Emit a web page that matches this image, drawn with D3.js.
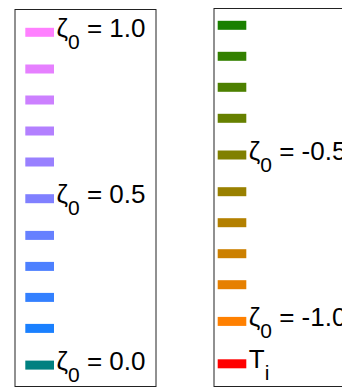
<!DOCTYPE html>
<html>
<head>
<meta charset="utf-8">
<script src="https://cdn.jsdelivr.net/npm/d3@7"></script>
<style>
  html, body { margin: 0; padding: 0; background: #fff; }
  svg { display: block; }
</style>
</head>
<body>
<div id="chart"></div>
<script>
// ---- data ----
const leftValues  = [1.0, 0.9, 0.8, 0.7, 0.6, 0.5, 0.4, 0.3, 0.2, 0.1, 0.0];
const leftColors  = ["#ff80ff", "#e680ff", "#cc80ff", "#b380ff", "#9980ff", "#8080ff",
                     "#6680ff", "#4d80ff", "#3380ff", "#1a80ff", "#008080"];
const leftLabels  = ["1.0", "", "", "", "", "0.5", "", "", "", "", "0.0"];

const rightValues = [-0.1, -0.2, -0.3, -0.4, -0.5, -0.6, -0.7, -0.8, -0.9, -1.0, null];
const rightColors = ["#1a8000", "#338000", "#4d8000", "#668000", "#808000", "#998000",
                     "#b38000", "#cc8000", "#e68000", "#ff8000", "#ff0000"];
const rightLabels = ["", "", "", "", "-0.5", "", "", "", "", "-1.0", "T_i"];

// ---- drawing ----
const W = 342, H = 390;
const svg = d3.select("#chart").append("svg")
  .attr("width", W).attr("height", H)
  .style("font-family", "'Liberation Sans', Arial, Helvetica, sans-serif");

svg.append("rect").attr("width", W).attr("height", H).attr("fill", "#fff");

function drawLegend(cfg) {
  const { values, colors, labels, box, swX, swW, firstY } = cfg;
  // cumulative row offsets (labelled rows are taller)
  const offs = [0];
  for (let i = 1; i < labels.length; i++) {
    offs.push(offs[i - 1] + 31 + 5.7 * ((labels[i - 1] ? 1 : 0) + (labels[i] ? 1 : 0)));
  }
  const y = d3.scaleLinear().domain([0, offs[offs.length - 1]])
    .range([firstY, firstY + offs[offs.length - 1]]);

  const g = svg.append("g");
  g.append("rect")
    .attr("x", box.x).attr("y", box.y)
    .attr("width", box.w).attr("height", box.h)
    .attr("fill", "#fff").attr("stroke", "#222").attr("stroke-width", 1);

  const rows = g.selectAll("g.row").data(values.map((v, i) => ({ v, i })))
    .enter().append("g").attr("class", "row");

  rows.append("rect")
    .attr("x", swX).attr("width", swW)
    .attr("y", d => y(offs[d.i]) - 4.5).attr("height", 9)
    .attr("fill", d => colors[d.i]);

  const txt = rows.filter(d => labels[d.i]).append("text")
    .attr("x", swX + swW + 2.5)
    .attr("y", d => y(offs[d.i]) + 4.5)
    .attr("font-size", 26)
    .attr("fill", "#000");

  txt.each(function (d) {
    const t = d3.select(this);
    const lab = labels[d.i];
    if (lab === "T_i") {
      t.append("tspan").text("T");
      t.append("tspan").attr("dy", 12).attr("font-size", 21).text("i");
    } else {
      t.append("tspan").text("ζ");
      t.append("tspan").attr("dy", 12).attr("font-size", 21).text("0");
      t.append("tspan").attr("dy", -12).text(" = " + lab);
    }
  });
}

drawLegend({
  values: leftValues, colors: leftColors, labels: leftLabels,
  box: { x: 15, y: 9.5, w: 141, h: 377 },
  swX: 25.3, swW: 28.7, firstY: 32.3
});

drawLegend({
  values: rightValues, colors: rightColors, labels: rightLabels,
  box: { x: 214, y: 8.5, w: 200, h: 378 },
  swX: 217.7, swW: 28.6, firstY: 25.3
});
</script>
</body>
</html>
